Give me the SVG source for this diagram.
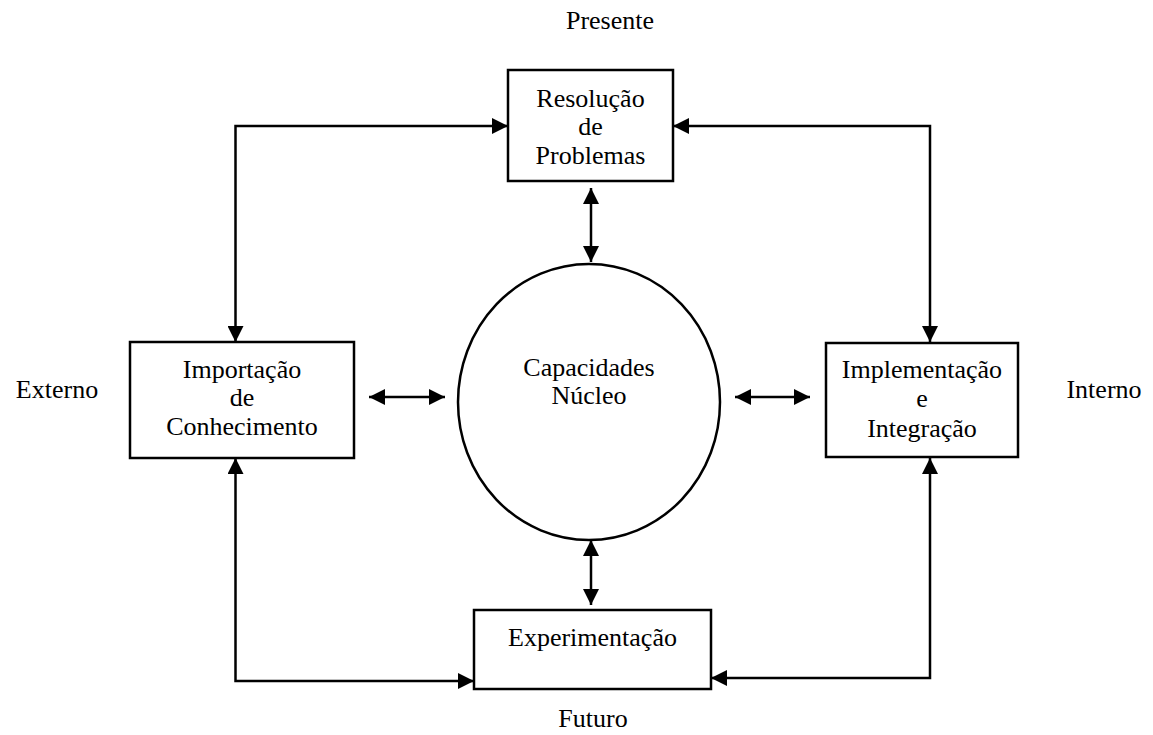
<svg xmlns="http://www.w3.org/2000/svg" width="1153" height="735" viewBox="0 0 1153 735">
<style>
text{font-family:"Liberation Serif","Times New Roman",serif;font-size:26px;fill:#000;text-anchor:middle}
.box{fill:#fff;stroke:#000;stroke-width:2.5}
.d{fill:none;stroke:#000;stroke-width:2.5;marker-start:url(#ah);marker-end:url(#ah)}
</style>
<defs>
<marker id="ah" markerUnits="userSpaceOnUse" markerWidth="17" markerHeight="16" refX="16" refY="8" orient="auto-start-reverse">
<path d="M0,0 L16,8 L0,16 z" fill="#000"/>
</marker>
</defs>
<rect width="1153" height="735" fill="#fff"/>
<g id="connectors">
<path class="d" d="M508,126 H235.5 V342"/>
<path class="d" d="M673,126 H930 V342"/>
<path class="d" d="M235.5,458 V681 H474"/>
<path class="d" d="M930,458 V678 H711"/>
<path class="d" d="M591,188 V262"/>
<path class="d" d="M591,540 V605"/>
<path class="d" d="M369,397 H445"/>
<path class="d" d="M735,397 H810"/>
</g>
<g id="resolucao">
<rect class="box" x="508" y="70" width="165" height="111"/>
<text x="590.5" y="107">Resolução</text>
<text x="590.5" y="135">de</text>
<text x="590.5" y="164">Problemas</text>
</g>
<g id="importacao">
<rect class="box" x="130" y="342" width="224" height="116"/>
<text x="242" y="378">Importação</text>
<text x="242" y="406">de</text>
<text x="242" y="435">Conhecimento</text>
</g>
<g id="implementacao">
<rect class="box" x="826" y="343" width="192" height="114"/>
<text x="922" y="378">Implementação</text>
<text x="922" y="407">e</text>
<text x="922" y="437">Integração</text>
</g>
<g id="experimentacao">
<rect class="box" x="474" y="610" width="237" height="79"/>
<text x="592.5" y="646">Experimentação</text>
</g>
<g id="capacidades">
<ellipse class="box" cx="589" cy="402" rx="131" ry="138"/>
<text x="589" y="376">Capacidades</text>
<text x="589" y="404">Núcleo</text>
</g>
<g id="labels">
<text x="610" y="29">Presente</text>
<text x="57" y="398">Externo</text>
<text x="1104" y="398">Interno</text>
<text x="593" y="727">Futuro</text>
</g>
</svg>
